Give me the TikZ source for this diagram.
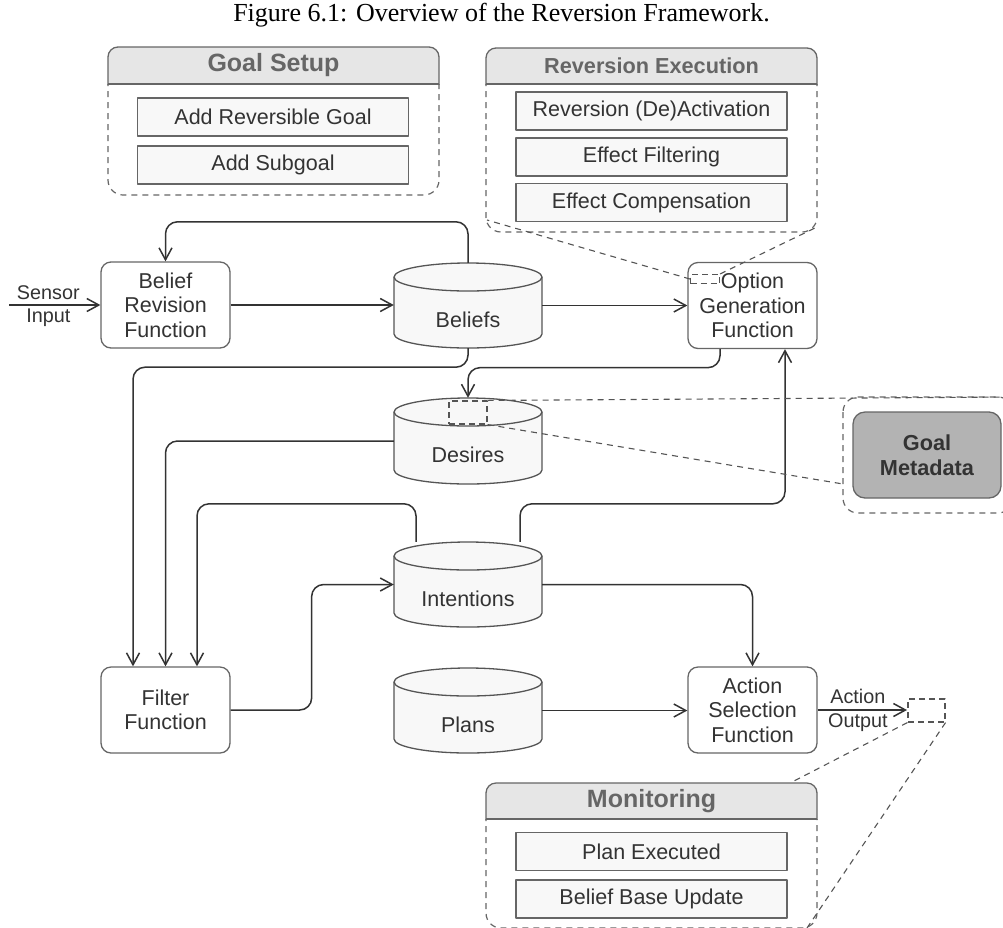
\documentclass[tikz,border=0pt]{standalone}
\usepackage{fontspec}
\setmainfont{Liberation Serif}
\setsansfont{Liberation Sans}
\usetikzlibrary{arrows.meta}
\definecolor{ln}{HTML}{333333}
\definecolor{bd}{HTML}{666666}
\definecolor{hdr}{HTML}{E6E6E6}
\definecolor{lite}{HTML}{F8F8F8}
\definecolor{gmfill}{HTML}{B3B3B3}
\definecolor{txt}{HTML}{333333}
\definecolor{htxt}{HTML}{666666}
\definecolor{dsh}{HTML}{555555}

\newcommand{\drawcyl}[5]{%
  \draw[cylstyle] ({#2-74},{#3+14}) -- ({#2-74},{#4-14})
     arc[start angle=180,end angle=0,x radius=74,y radius=14]
     -- ({#2+74},{#3+14})
     arc[start angle=0,end angle=-180,x radius=74,y radius=14] -- cycle;
  \draw[cylstyle,fill=none] ({#2-74},{#3+14}) arc[start angle=180,end angle=0,x radius=74,y radius=14];
  \node[inner sep=0pt,minimum width=148pt,minimum height={#4-#3}] (#1) at (#2,{(#3+#4)/2}) {};
  \node[lbl] (#1-text) at (#2,{(#3+28+#4)/2}) {#5};
}

\newcommand{\container}[7]{%
  \begin{scope}
    \clip ({#1-5},{#2-5}) rectangle ({#4+5},#3);
    \draw[hdrbox] (#1,#2) rectangle (#4,{#3+30});
  \end{scope}
  \begin{scope}
    \clip ({#1-5},#3) rectangle ({#4+5},{#5+5});
    \draw[dashbox] (#1,{#3-30}) rectangle (#4,#5);
  \end{scope}
  \draw[draw=bd,line width=1.2pt] (#1,#3) -- (#4,#3);
  \node[htitle] (#6) at ({(#1+#4)/2},{(#2+#3)/2}) {#7};
}

\begin{document}
\begin{tikzpicture}[x=1pt,y=-1pt,line join=round,
  lbl/.style={font=\sffamily\fontsize{21.5}{24.5}\selectfont, text=txt, align=center, inner sep=0pt},
  edgelbl/.style={font=\sffamily\fontsize{19.8}{22}\selectfont, text=txt, inner sep=0pt},
  htitle/.style={font=\sffamily\bfseries, text=htxt, inner sep=0pt},
  func/.style={lbl, draw=bd, line width=1.3pt, rounded corners=10pt, fill=white, minimum width=129pt, minimum height=86pt},
  item/.style={lbl, draw=bd, line width=1.3pt, fill=lite, minimum width=271pt, minimum height=38pt},
  gmeta/.style={lbl, font=\sffamily\bfseries\fontsize{21.7}{25}\selectfont, draw=bd, line width=1.3pt, fill=gmfill, rounded corners=12pt, minimum width=148pt, minimum height=86pt},
  cylstyle/.style={draw=dsh, line width=1.3pt, fill=lite},
  hdrbox/.style={draw=bd, line width=1.3pt, fill=hdr, rounded corners=10pt},
  dashbox/.style={draw=bd, line width=1.2pt, dash pattern=on 6pt off 5pt, rounded corners=15pt},
  mag/.style={draw=dsh, line width=1.1pt, dash pattern=on 6pt off 5pt},
  magbox/.style={draw=dsh, line width=1.1pt, dash pattern=on 6pt off 4pt, inner sep=0pt},
  arr/.style={draw=ln, line width=1.5pt, -{Straight Barb[length=12pt,width=13pt]}, rounded corners=12pt}
]
\useasboundingbox (0,0) rectangle (1003,927);

\node[font=\rmfamily\fontsize{26}{30}\selectfont, anchor=base, inner sep=0pt] (caption) at (501.5,21.5) {Figure 6.1: Overview of the Reversion Framework.};

% containers
\container{108}{47}{84}{439}{195}{gs}{\fontsize{25}{28}\selectfont Goal Setup}
\container{486}{48}{84}{817}{232}{re}{\fontsize{21.7}{25}\selectfont Reversion Execution}
\container{486}{783}{819}{817}{928}{mon}{\fontsize{25}{28}\selectfont Monitoring}

\node[item] (arg) at (273,117) {Add Reversible Goal};
\node[item] (asg) at (273,165) {Add Subgoal};
\node[item] (rda) at (651.5,111) {Reversion (De)Activation};
\node[item] (efl) at (651.5,157) {Effect Filtering};
\node[item] (eco) at (651.5,202.5) {Effect Compensation};
\node[item] (pex) at (651.5,851.5) {Plan Executed};
\node[item] (bbu) at (651.5,899) {Belief Base Update};

% goal metadata
\draw[dashbox] (843,397) rectangle (1013,513);
\node[gmeta] (gm) at (927,455) {Goal\\Metadata};

% function boxes
\node[func] (brf) at (165.5,305) {Belief\\Revision\\Function};
\node[func] (ogf) at (752.5,305.5) {Option\\Generation\\Function};
\node[func] (ff) at (165.5,710) {Filter\\Function};
\node[func] (asf) at (752.5,710) {Action\\Selection\\Function};

% data stores
\drawcyl{beliefs}{468}{263}{348}{Beliefs}
\drawcyl{desires}{468}{398}{484}{Desires}
\drawcyl{intentions}{468}{542}{627}{Intentions}
\drawcyl{plans}{468}{668}{753}{Plans}

% connectors
\coordinate (sensorin) at (9,305);
\draw[arr] (sensorin) -- node[edgelbl,pos=0.43,above=5pt]{Sensor} node[edgelbl,pos=0.43,below=3pt]{Input} (brf.west);
\draw[arr] (brf.east) -- (brf.east -| beliefs.west);
\draw[arr] (beliefs.east) -- (beliefs.east -| ogf.west);
\draw[arr] (beliefs.north) -- ++(0,-41) -| (brf.north);
\draw[arr] (beliefs.south) -- ++(0,19) -| ([xshift=-32.5pt]ff.north);
\draw[arr] ([xshift=-32.5pt]ogf.south) -- ++(0,18.5) -| (desires.north);
\draw[arr] (desires.west) -| (ff.north);
\draw[arr] ([xshift=-52pt]intentions.north) -- ++(0,-38) -| ([xshift=31.5pt]ff.north);
\draw[arr] ([xshift=52pt]intentions.north) -- ++(0,-38) -| ([xshift=32.5pt]ogf.south);
\draw[arr] (ff.east) -- ++(81,0) |- (intentions.west);
\draw[arr] (intentions.east) -| (asf.north);
\draw[arr] (plans.east) -- (plans.east -| asf.west);
\coordinate (actout) at (907,710);
\draw[arr] (asf.east) -- node[edgelbl,pos=0.45,above=6pt]{Action} node[edgelbl,pos=0.45,below=3pt]{Output} (actout);

% magnification marks
\node[magbox,minimum width=29pt,minimum height=9pt] (optzoom) at (705,279) {};
\coordinate (reBL) at (487,220);
\coordinate (reBR) at (817,227);
\draw[mag] (optzoom.west) -- (reBL);
\draw[mag] (optzoom.north east) -- (reBR);

\node[magbox,minimum width=38pt,minimum height=23pt] (dzoom) at (468,412.5) {};
\coordinate (gmTR) at (1013,397);
\coordinate (gmL) at (843,484);
\draw[mag] (dzoom.north east) -- (gmTR);
\draw[mag] (dzoom.south east) -- (gmL);

\node[magbox,minimum width=37pt,minimum height=23pt] (azoom) at (926.5,710.5) {};
\coordinate (monTR) at (792,782);
\coordinate (monBR) at (807,928);
\draw[mag] (azoom.south west) -- (monTR);
\draw[mag] (azoom.south east) -- (monBR);
\end{tikzpicture}
\end{document}
